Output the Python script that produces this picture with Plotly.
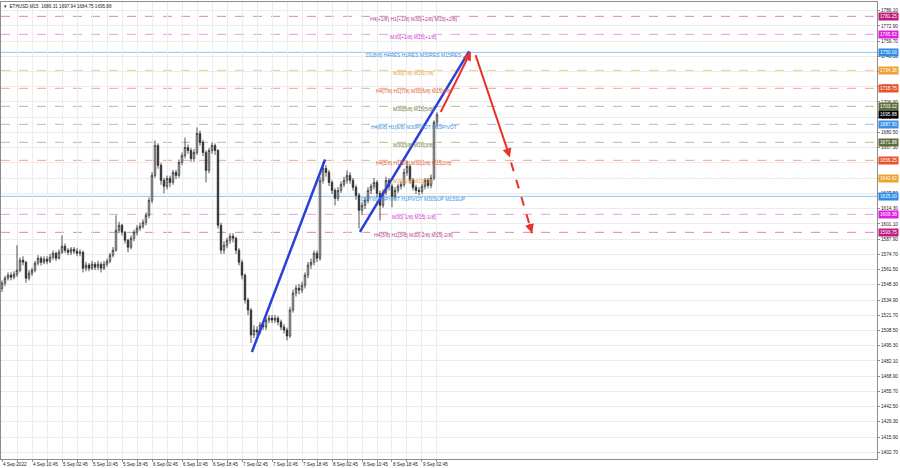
import plotly.graph_objects as go

# ---------------- data ----------------
x_labels = ["4 Sep 2022", "4 Sep 10:45", "5 Sep 02:45", "5 Sep 10:45", "5 Sep 18:45",
            "6 Sep 02:45", "6 Sep 10:45", "6 Sep 18:45", "7 Sep 02:45", "7 Sep 10:45",
            "7 Sep 18:45", "8 Sep 02:45", "8 Sep 10:45", "8 Sep 18:45", "9 Sep 02:45"]

y_ticks = [1786.10, 1772.90, 1759.70, 1746.50, 1733.30, 1720.10, 1706.90, 1693.70,
           1680.50, 1667.30, 1654.10, 1640.90, 1627.50, 1614.30, 1601.10, 1587.90,
           1574.70, 1561.50, 1548.30, 1534.90, 1521.70, 1508.50, 1495.30, 1482.10,
           1468.90, 1455.70, 1442.50, 1429.30, 1415.90, 1402.70]

first_open = 1545.0
close = [1549.7, 1554.0, 1556.6, 1554.8, 1557.4, 1560.9, 1569.6, 1567.8, 1554.0, 1558.3,
         1560.9, 1567.0, 1571.3, 1567.8, 1570.5, 1568.7, 1572.2, 1575.6, 1571.3, 1576.5,
         1581.7, 1578.2, 1576.5, 1579.1, 1577.4, 1575.6, 1576.5, 1562.6, 1565.3, 1562.6,
         1566.1, 1563.5, 1566.1, 1562.6, 1566.1, 1568.7, 1573.9, 1578.2, 1595.6, 1599.9,
         1593.8, 1586.9, 1580.8, 1588.6, 1593.8, 1597.3, 1599.0, 1602.5, 1608.5, 1621.5,
         1643.2, 1669.2, 1651.9, 1638.9, 1633.7, 1640.6, 1637.1, 1645.8, 1643.2, 1654.5,
         1660.5, 1667.4, 1664.8, 1657.9, 1663.1, 1679.6, 1671.8, 1663.1, 1647.5, 1664.8,
         1669.2, 1664.8, 1599.9, 1578.2, 1582.6, 1586.9, 1590.4, 1588.6, 1578.2, 1567.8,
         1556.6, 1535.0, 1526.3, 1504.6, 1509.0, 1507.2, 1513.3, 1511.6, 1517.6, 1519.3,
         1517.6, 1519.3, 1515.9, 1511.6, 1509.0, 1503.8, 1526.3, 1541.0, 1545.3, 1543.6,
         1547.9, 1556.6, 1565.3, 1567.8, 1575.6, 1571.3, 1638.9, 1649.3, 1645.8, 1637.1,
         1630.2, 1623.3, 1630.2, 1635.4, 1638.9, 1643.2, 1638.9, 1632.8, 1625.9, 1612.9,
         1617.2, 1621.5, 1630.2, 1633.7, 1637.1, 1627.6, 1617.2, 1628.5, 1638.9, 1633.7,
         1625.0, 1630.2, 1633.7, 1635.4, 1645.8, 1651.0, 1638.9, 1632.8, 1630.2, 1629.3,
         1633.7, 1638.9, 1634.5, 1641.0, 1689.31, 1695.88]

high = [1552, 1556, 1559, 1559, 1560, 1582.6, 1572, 1573, 1569, 1561,
        1563, 1569, 1574, 1573, 1573, 1573, 1575, 1578, 1577, 1579,
        1591, 1584, 1580, 1581, 1581, 1580, 1579, 1578, 1568, 1567,
        1569, 1568, 1569, 1568, 1569, 1571, 1576, 1581, 1608.5, 1603,
        1601, 1595, 1588, 1591, 1596, 1600, 1602, 1605, 1611, 1624,
        1646, 1673.5, 1671, 1654, 1641, 1643, 1643, 1648, 1648, 1657,
        1663, 1676, 1670, 1667, 1666, 1684.8, 1682, 1674, 1665, 1667,
        1672, 1671, 1666, 1602, 1586, 1589, 1593, 1593, 1590, 1580,
        1570, 1558, 1537, 1528, 1513, 1512, 1516, 1517, 1520, 1522,
        1522, 1522, 1521, 1518, 1514, 1511, 1529, 1544, 1548, 1549,
        1551, 1559, 1568, 1571, 1578, 1578, 1642, 1655, 1652, 1648,
        1639, 1632, 1633, 1638, 1642, 1647.5, 1646, 1641, 1635, 1628,
        1620, 1624, 1633, 1636, 1641, 1639, 1630, 1631, 1642, 1641,
        1636, 1633, 1636, 1638, 1649, 1656, 1653, 1641, 1635, 1633,
        1636, 1641, 1641, 1644, 1691, 1697.94]

low = [1542, 1547, 1552, 1552, 1553, 1555, 1559, 1565, 1550, 1552,
       1556, 1559, 1565, 1565, 1566, 1566, 1567, 1570, 1569, 1570,
       1575, 1576, 1574, 1574, 1575, 1573, 1573, 1559, 1560, 1560,
       1561, 1561, 1561, 1559, 1561, 1564, 1567, 1572, 1577, 1593,
       1591, 1584, 1576.5, 1579, 1586, 1591, 1595, 1597, 1600, 1606,
       1619, 1641, 1649, 1635, 1627.6, 1631, 1633, 1635, 1640, 1641,
       1652, 1658, 1662, 1655, 1655, 1661, 1669, 1660, 1637, 1645,
       1662, 1661, 1597, 1575, 1575, 1580, 1584, 1585, 1575, 1565,
       1553, 1532, 1522, 1497.7, 1502, 1504, 1505, 1509, 1509, 1515,
       1515, 1515, 1513, 1509, 1506, 1500, 1502, 1524, 1538, 1540,
       1541, 1545, 1554, 1562, 1565, 1568, 1569, 1636, 1642, 1634,
       1627, 1617, 1621, 1628, 1633, 1636, 1636, 1630, 1622, 1597,
       1609, 1614, 1619, 1627, 1631, 1624, 1604, 1615, 1626, 1630,
       1615.5, 1622, 1628, 1631, 1633, 1643, 1636, 1630, 1627, 1626,
       1627, 1631, 1632, 1632, 1639, 1684.75]

level_prices = [1781.25, 1765.62, 1750.00, 1734.38, 1718.75, 1703.12, 1687.50,
                1671.88, 1656.25, 1640.62, 1625.00, 1609.38, 1593.75]
level_texts = ["H4[+1/8] H1[+1/8] M30[+2/8] M15[+2/8]",
               "M30[+1/8] M15[+1/8]",
               "D1[8/8] H4RES H1RES M30RES M15RES",
               "M30[7/8] M15[7/8]",
               "H4[7/8] H1[7/8] M30[6/8] M15[6/8]",
               "M30[5/8] M15[5/8]",
               "H4[6/8] H1[6/8] M30PIVOT M15PIVOT",
               "M30[3/8] M15[3/8]",
               "H4[5/8] H1[5/8] M30[2/8] M15[2/8]",
               "M30[1/8] M15[1/8]",
               "D1[7/8] H4PIVOT H1PIVOT M30SUP M15SUP",
               "M30[-1/8] M15[-1/8]",
               "H4[3/8] H1[3/8] M30[-2/8] M15[-2/8]"]
current_price = 1695.88

# drawn wave lines (bar index, price)
wave_x = [83.3, 107.7, None, 119.3, 155.7]
wave_y = [1489.9, 1657.0, None, 1594.1, 1750.8]
# projection arrows
up_arrow = [(146.0, 1696.9), (156.3, 1750.8)]
down_arrow = [(157.7, 1748.9), (169.3, 1658.8)]
dash_arrow = [(169.7, 1654.4), (176.7, 1593.0)]

# ---------------- styles ----------------
line_cols = ["#d889b8", "#e99be9", "#8fc3f0", "#f3c98a", "#f0a88a", "#b2bd96", "#9dbfe3",
             "#b2bd96", "#f0a88a", "#f3c98a", "#8fc3f0", "#e99be9", "#d889b8"]
line_dash = ["dash", "dash", "solid", "dash", "dash", "dash", "dash",
             "dash", "dash", "dash", "solid", "dash", "dash"]
text_cols = ["#b0409a", "#d23ad2", "#3a8ee0", "#e8a030", "#e2602e", "#6b7f3a", "#3a8ee0",
             "#6b7f3a", "#e2602e", "#e8a030", "#3a8ee0", "#d23ad2", "#b0409a"]
box_cols = ["#c21b7e", "#e01ee0", "#2e8be6", "#f0a030", "#e8552a", "#5e6e3a", "#3a8ee6",
            "#5e6e3a", "#e8552a", "#f0a030", "#2e8be6", "#e01ee0", "#c21b7e"]

FONT = "Liberation Sans, Arial, sans-serif"
N = len(close)
idx = list(range(N))
opens = [first_open] + close[:-1]

fig = go.Figure()

# level lines
for p, c, d in zip(level_prices, line_cols, line_dash):
    fig.add_hline(y=p, line=dict(color=c, width=1, dash=d), layer="below")

fig.add_trace(go.Candlestick(
    x=idx, open=opens, high=high, low=low, close=close,
    increasing=dict(line=dict(color="#2a2a2a", width=0.8), fillcolor="#ffffff"),
    decreasing=dict(line=dict(color="#2a2a2a", width=0.8), fillcolor="#2a2a2a"),
    whiskerwidth=0, showlegend=False, hoverinfo="skip"))

fig.add_trace(go.Scatter(x=wave_x, y=wave_y, mode="lines",
                         line=dict(color="#2b3fd6", width=2.5), showlegend=False,
                         hoverinfo="skip"))

RED = "#e8322a"
fig.add_trace(go.Scatter(x=[dash_arrow[0][0], dash_arrow[1][0]],
                         y=[dash_arrow[0][1], dash_arrow[1][1]], mode="lines",
                         line=dict(color=RED, width=2, dash="dash"), showlegend=False,
                         hoverinfo="skip"))

for (tx, ty), (hx, hy) in [up_arrow, down_arrow]:
    fig.add_annotation(x=hx, y=hy, ax=tx, ay=ty, xref="x", yref="y", axref="x", ayref="y",
                       text="", showarrow=True, arrowhead=2, arrowsize=0.9,
                       arrowwidth=2, arrowcolor=RED, standoff=0, startstandoff=0)
# head of dashed arrow
(t0x, t0y), (h0x, h0y) = dash_arrow
fig.add_annotation(x=h0x, y=h0y, ax=h0x - (h0x - t0x) * 0.15, ay=h0y - (h0y - t0y) * 0.15,
                   xref="x", yref="y", axref="x", ayref="y", text="", showarrow=True,
                   arrowhead=2, arrowsize=0.9, arrowwidth=2, arrowcolor=RED, standoff=0)

# level texts
LABEL_X = 137.3
for p, t, c in zip(level_prices, level_texts, text_cols):
    fig.add_annotation(x=LABEL_X, y=p, xref="x", yref="y", text=t, showarrow=False,
                       xanchor="center", yanchor="middle", yshift=-2.5,
                       font=dict(family=FONT, size=5, color=c))

# right price boxes
for p, c in zip(level_prices + [current_price], box_cols + ["#000000"]):
    fig.add_annotation(x=1, y=p, xref="paper", yref="y", text=f"{p:.2f}",
                       showarrow=False, xanchor="left", yanchor="middle", xshift=1,
                       bgcolor=c, borderpad=1,
                       font=dict(family=FONT, size=4.7, color="#ffffff"))

# title
fig.add_annotation(x=0, y=1, xref="paper", yref="paper", xanchor="left", yanchor="top",
                   xshift=1, yshift=0, showarrow=False,
                   text="▾  ETHUSD,M15  1689.31 1697.94 1684.75 1695.88",
                   font=dict(family=FONT, size=4.6, color="#222222"))

tickvals = [5 * k for k in range(2 * len(x_labels))]
ticktext = []
for k in range(2 * len(x_labels)):
    ticktext.append(x_labels[k // 2] if k % 2 == 0 else "")

fig.update_layout(
    width=900, height=468,
    margin=dict(l=1, r=23, t=2, b=9),
    paper_bgcolor="#ffffff", plot_bgcolor="#ffffff",
    showlegend=False,
    xaxis=dict(range=[-0.333, 291.67], tickvals=tickvals, ticktext=ticktext,
               ticklabelposition="outside right", tickangle=0, automargin=False,
               showgrid=True, gridcolor="#ececec",
               gridwidth=1, zeroline=False, showline=True, linecolor="#8c8c8c",
               mirror=True, ticks="outside", ticklen=2, tickcolor="#8c8c8c",
               tickfont=dict(family=FONT, size=4.6, color="#222222"),
               rangeslider=dict(visible=False), fixedrange=True),
    yaxis=dict(range=[1397.0, 1793.7], side="right", tickvals=y_ticks, automargin=False,
               ticktext=[f"{v:.2f}" for v in y_ticks], showgrid=True,
               gridcolor="#ececec", gridwidth=1, zeroline=False, showline=True,
               linecolor="#8c8c8c", mirror=True, ticks="outside", ticklen=2,
               tickcolor="#8c8c8c",
               tickfont=dict(family=FONT, size=4.7, color="#222222"), fixedrange=True),
)

fig.write_html("out.html", config={"displayModeBar": False},
               post_script="document.body.style.margin='0';document.body.style.overflow='hidden';")
